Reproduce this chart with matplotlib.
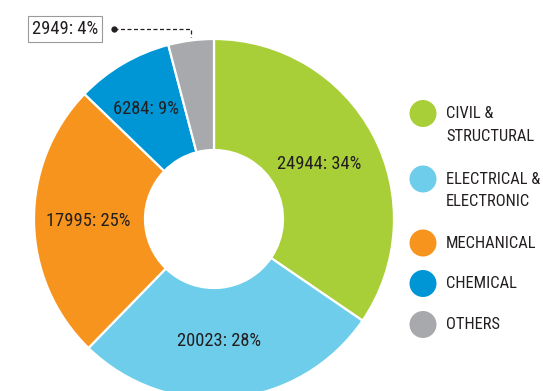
import matplotlib
matplotlib.use("Agg")
import matplotlib.pyplot as plt
from matplotlib import font_manager
from matplotlib.patches import Circle
import numpy as np

# Engineering disciplines breakdown
categories = ["CIVIL &\nSTRUCTURAL", "ELECTRICAL &\nELECTRONIC", "MECHANICAL", "CHEMICAL", "OTHERS"]
counts = [24944, 20023, 17995, 6284, 2949]
percents = [34, 28, 25, 9, 4]
colors = ["#a8cf38", "#6dcdeb", "#f7941d", "#0096d6", "#a7a9ac"]

# Pick a narrow typeface if one is installed
available = {f.name for f in font_manager.fontManager.ttflist}
narrow = [n for n in ["Liberation Sans Narrow", "Roboto Condensed", "Open Sans Condensed",
                      "Noto Sans Condensed"] if n in available]
font_kw = {}
if narrow:
    font_kw = dict(family=narrow[0])
elif any(f.name == "DejaVu Sans" and f.stretch == "condensed" for f in font_manager.fontManager.ttflist):
    font_kw = dict(family="DejaVu Sans", stretch="condensed")

TEXT = "#231f20"
FS_LABEL = 13.3
FS_LEGEND = 11.9

W, H = 543, 391
fig = plt.figure(figsize=(W / 100, H / 100), dpi=100)
ax = fig.add_axes([0, 0, 1, 1])

cx, cy = 214, H - 219
R, r_hole = 180, 69

wedges, _ = ax.pie(counts, colors=colors, startangle=90, counterclock=False,
                   radius=R, center=(cx, cy),
                   wedgeprops=dict(width=R - r_hole, edgecolor="white", linewidth=1.6))

ax.set_xlim(0, W)
ax.set_ylim(0, H)
ax.set_aspect("equal")
ax.axis("off")

# In-ring labels for the larger slices (radius fraction, angular nudge in degrees)
label_r = [0.66, 0.68, 0.70, 0.72]
label_shift = [0, -3.5, 0, 1.5]
for w, n, p, fr, dt in zip(wedges[:4], counts[:4], percents[:4], label_r, label_shift):
    mid = np.deg2rad((w.theta1 + w.theta2) / 2 + dt)
    ax.text(cx + fr * R * np.cos(mid), cy + fr * R * np.sin(mid), f"{n}: {p}%",
            ha="center", va="center", fontsize=FS_LABEL, color=TEXT, **font_kw)

# Callout for the smallest slice
w = wedges[4]
mid = np.deg2rad((w.theta1 + w.theta2) / 2)
ex, ey = cx + R * np.cos(mid), cy + (R + 4) * np.sin(mid)
ly = H - 29
ax.plot([114, ex, ex], [ly, ly, ey], color=TEXT, lw=0.9, dashes=(3.2, 2.0))
ax.plot([114], [ly], "o", color=TEXT, ms=3.5)
ax.text(65, ly, f"{counts[4]}: {percents[4]}%", ha="center", va="center",
        fontsize=FS_LABEL, color=TEXT,
        bbox=dict(boxstyle="square,pad=0.2", fc="white", ec="#9a9a9a", lw=0.8), **font_kw)

# Legend
leg_y = [113.5, 179, 243, 283.5, 324.5]
for cat, col, yy in zip(categories, colors, leg_y):
    y = H - yy
    ax.add_patch(Circle((423, y), 13.5, color=col, lw=0))
    for k, line in enumerate(cat.split("\n")):
        ax.text(446, y - 23 * k, line, ha="left", va="center", fontsize=FS_LEGEND,
                color=TEXT, **font_kw)

fig.savefig("out.png", dpi=100)
